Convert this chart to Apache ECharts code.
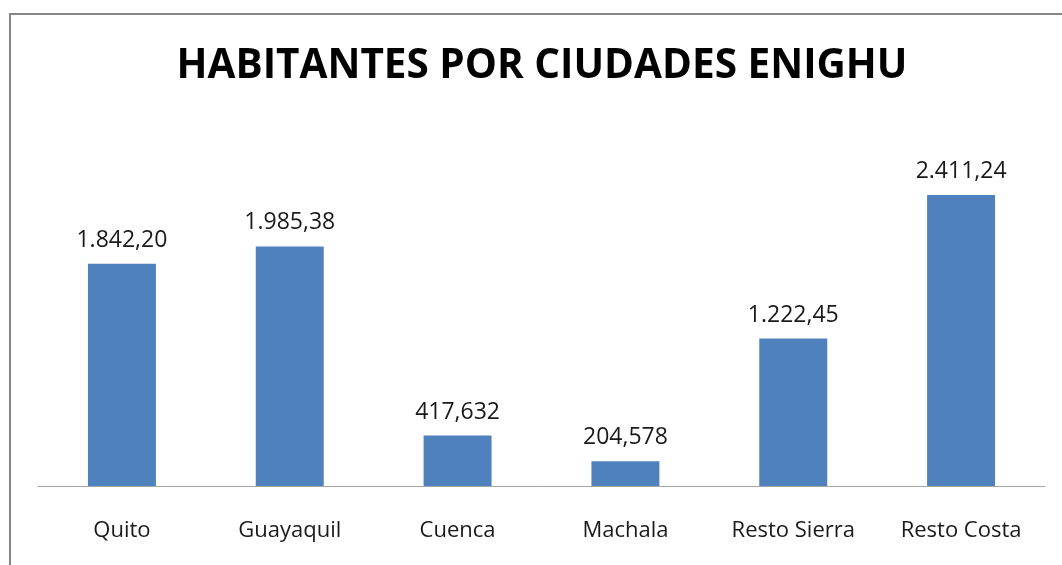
<!DOCTYPE html>
<html>
<head>
<meta charset="utf-8">
<script src="https://cdn.jsdelivr.net/npm/echarts@6/dist/echarts.min.js"></script>
<style>
  html, body { margin: 0; padding: 0; background: #fff; }
  #chart { width: 1062px; height: 565px; }
</style>
</head>
<body>
<div id="chart"></div>
<script>
// datos (miles de habitantes)
const ciudades = ['Quito', 'Guayaquil', 'Cuenca', 'Machala', 'Resto Sierra', 'Resto Costa'];
const habitantes = [1842.20, 1985.38, 417.632, 204.578, 1222.45, 2411.24];
const etiquetas = ['1.842,20', '1.985,38', '417,632', '204,578', '1.222,45', '2.411,24'];

const chart = echarts.init(document.getElementById('chart'));

chart.setOption({
  backgroundColor: '#fff',
  animation: false,
  title: {
    text: 'HABITANTES POR CIUDADES ENIGHU',
    left: 537,
    textAlign: 'center',
    top: 41,
    textStyle: {
      fontFamily: "'Open Sans', sans-serif",
      fontWeight: 'bold',
      fontSize: 40.5,
      color: '#000',
    },
  },
  // marco del grafico
  graphic: [{
    type: 'polyline',
    shape: { points: [[10, 565], [10, 14], [1062, 14]] },
    style: { stroke: '#868686', lineWidth: 2, fill: null },
    silent: true,
  }],
  grid: { left: 38, right: 17, top: 124, bottom: 79 },
  xAxis: {
    type: 'category',
    data: ciudades,
    axisLine: { lineStyle: { color: '#A6A6A6', width: 1 } },
    axisTick: { show: false },
    axisLabel: {
      margin: 34,
      fontFamily: "'Open Sans', sans-serif",
      fontSize: 22,
      color: '#1a1a1a',
    },
  },
  yAxis: {
    type: 'value',
    min: 0,
    max: 3000,
    show: false,
  },
  series: [{
    type: 'bar',
    data: habitantes,
    barWidth: '40.5%',
    itemStyle: { color: '#4F81BD' },
    label: {
      show: true,
      position: 'top',
      distance: 12,
      fontFamily: "'Open Sans', sans-serif",
      fontSize: 23,
      color: '#1a1a1a',
      formatter: (p) => etiquetas[p.dataIndex],
    },
  }],
});
</script>
</body>
</html>
